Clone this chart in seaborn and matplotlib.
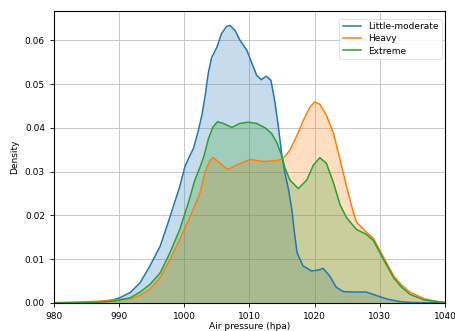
import matplotlib
matplotlib.use("Agg")
import matplotlib.pyplot as plt
import seaborn as sns
import pandas as pd

series_names = ["Little-moderate", "Heavy", "Extreme"]

little_x = [980, 984, 987, 989, 990.1, 991.7, 993.2, 994.7, 996.3, 997.5, 998.3, 999.3, 1000.1,
            1000.9, 1001.4, 1002.1, 1002.7, 1003.2, 1003.7, 1004.2, 1005.0, 1005.7, 1006.5, 1007.0,
            1007.8, 1008.5, 1009.6, 1010.3, 1011.1, 1011.8, 1012.6, 1013.3, 1013.9, 1014.4, 1014.9,
            1015.4, 1016.0, 1016.5, 1016.9, 1017.3, 1018.2, 1019.5, 1020.5, 1021.3, 1022.3, 1023.3,
            1024.4, 1026, 1027.9, 1029.5, 1031.1, 1033.2, 1035, 1040]
little_y = [0.0, 0.0001, 0.0003, 0.0007, 0.0012, 0.0024, 0.0046, 0.0084, 0.013, 0.0183, 0.022,
            0.0266, 0.0312, 0.0338, 0.0353, 0.0391, 0.0429, 0.0474, 0.0527, 0.0561, 0.0584, 0.0615,
            0.0632, 0.0634, 0.0622, 0.0601, 0.0577, 0.055, 0.052, 0.051, 0.0518, 0.0508, 0.0459,
            0.0406, 0.0345, 0.030, 0.0258, 0.0213, 0.016, 0.0115, 0.0085, 0.0073, 0.0075, 0.0079,
            0.0062, 0.0036, 0.0026, 0.0025, 0.0025, 0.0017, 0.0009, 0.0003, 0.0001, 0.0]

heavy_x = [980, 984, 987, 989.5, 991.7, 993.2, 994.7, 996.3, 997.8, 999.3, 1000.9, 1002.4, 1003.2,
           1003.9, 1004.4, 1005.5, 1006.7, 1008.0, 1010.1, 1012.1, 1014.0, 1014.7, 1015.4, 1016.2,
           1017.2, 1018.3, 1019.3, 1020.0, 1020.8, 1021.8, 1022.9, 1023.9, 1024.9, 1025.7, 1026.4,
           1027.9, 1029, 1030, 1031.1, 1032.1, 1033.2, 1034.6, 1036.8, 1038.5, 1040]
heavy_y = [0.0001, 0.0002, 0.0004, 0.0007, 0.0010, 0.0017, 0.0031, 0.0058, 0.0099, 0.0145, 0.0198,
           0.0251, 0.0300, 0.0325, 0.0332, 0.0319, 0.0305, 0.0315, 0.0328, 0.0323, 0.0325, 0.0327,
           0.0334, 0.0349, 0.038, 0.0418, 0.0448, 0.0459, 0.0454, 0.0429, 0.0387, 0.0327, 0.0266,
           0.022, 0.0185, 0.0162, 0.0148, 0.012, 0.009, 0.0063, 0.0043, 0.0025, 0.001, 0.0004, 0.0001]

extreme_x = [980, 984, 987, 989.5, 991.7, 993.2, 994.7, 996.3, 997.8, 999.3, 1000.6, 1001.6, 1002.4,
             1003.0, 1003.7, 1004.4, 1005.1, 1006.0, 1007.3, 1008.5, 1009.8, 1011.1, 1012.4, 1013.4,
             1014.2, 1014.9, 1015.4, 1016.2, 1017.5, 1018.8, 1019.8, 1020.8, 1021.8, 1022.9, 1023.9,
             1024.9, 1026.4, 1027.9, 1029, 1030, 1031.1, 1032.1, 1033.2, 1034.6, 1036.8, 1040]
extreme_y = [0.0, 0.0001, 0.0002, 0.0005, 0.0012, 0.0025, 0.0042, 0.0069, 0.0115, 0.0168, 0.0228,
             0.0280, 0.031, 0.0335, 0.0375, 0.0402, 0.0414, 0.041, 0.0401, 0.041, 0.0413, 0.041,
             0.0400, 0.0387, 0.0366, 0.0338, 0.031, 0.0281, 0.0261, 0.0281, 0.0315, 0.0332, 0.0319,
             0.0274, 0.0224, 0.0195, 0.0168, 0.0157, 0.0143, 0.0115, 0.0085, 0.0058, 0.0038, 0.002,
             0.0007, 0.0001]

x_ticks = [980, 990, 1000, 1010, 1020, 1030, 1040]
y_ticks = [0.00, 0.01, 0.02, 0.03, 0.04, 0.05, 0.06]

frames = []
for name, xs, ys in zip(series_names, [little_x, heavy_x, extreme_x], [little_y, heavy_y, extreme_y]):
    frames.append(pd.DataFrame({"pressure": xs, "density": ys, "group": name}))
df = pd.concat(frames, ignore_index=True)

palette = dict(zip(series_names, sns.color_palette("tab10", 3)))

fig = plt.figure(figsize=(4.55, 3.31), dpi=100)
ax = fig.add_axes([0.1187, 0.0846, 0.8593, 0.8824])

sns.lineplot(data=df, x="pressure", y="density", hue="group", palette=palette,
             hue_order=series_names, linewidth=1.1, ax=ax, sort=True)
for name in series_names:
    sub = df[df["group"] == name]
    ax.fill_between(sub["pressure"], sub["density"], color=palette[name], alpha=0.25, linewidth=0)

ax.set_xlim(980, 1040)
ax.set_ylim(0, 0.0667)
ax.set_xticks(x_ticks)
ax.set_yticks(y_ticks)
ax.set_yticklabels([f"{v:.2f}" for v in y_ticks])
ax.tick_params(labelsize=6.5, length=3, width=0.6)
ax.set_xlabel("Air pressure (hpa)", fontsize=6.5, labelpad=1)
ax.set_ylabel("Density", fontsize=6.5, labelpad=4)
ax.grid(True, color="#c8c8c8", linewidth=0.7)
ax.set_axisbelow(True)
for s in ax.spines.values():
    s.set_linewidth(0.8)
leg = ax.legend(loc="upper right", bbox_to_anchor=(0.997, 0.98), fontsize=6.5, title=None,
                frameon=True, labelspacing=0.35, borderaxespad=0.2)
leg.get_frame().set_linewidth(0.5)

fig.savefig("out.png", dpi=100)
